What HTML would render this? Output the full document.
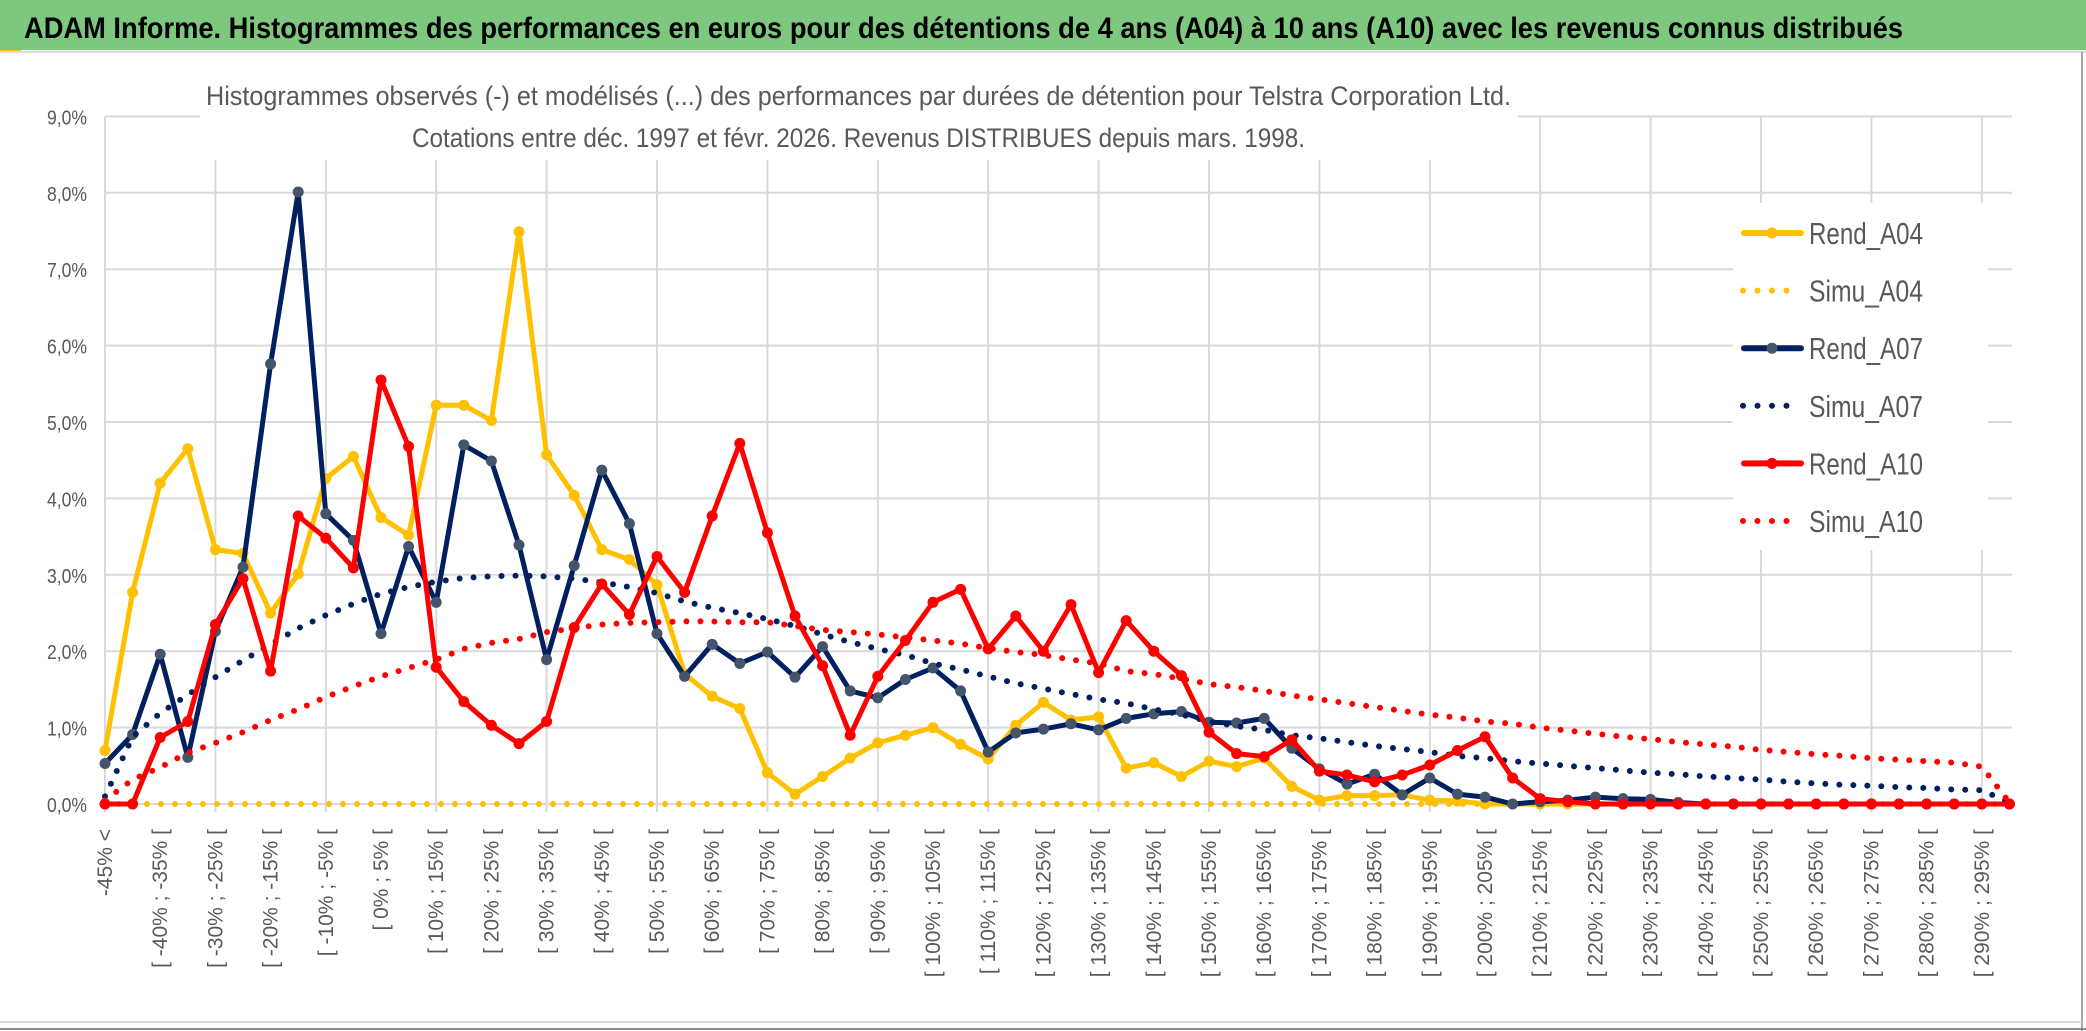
<!DOCTYPE html>
<html><head><meta charset="utf-8"><style>
html,body{margin:0;padding:0;background:#fff;}
svg{display:block;}
text{font-family:"Liberation Sans",sans-serif;}
</style></head><body>
<svg id="chart" width="2086" height="1031" viewBox="0 0 2086 1031" xmlns="http://www.w3.org/2000/svg">
<rect x="0" y="0" width="2086" height="1031" fill="#fff"/>
<rect x="0" y="0" width="2086" height="50" fill="#7DC87E"/>
<rect x="0" y="50" width="21" height="3" fill="#FFC000"/>
<line x1="0" y1="52" x2="2086" y2="52" stroke="#dddddd" stroke-width="2"/>
<line x1="2082" y1="52" x2="2082" y2="1031" stroke="#a6a6a6" stroke-width="2"/>
<line x1="0" y1="1022" x2="2082" y2="1022" stroke="#d9d9d9" stroke-width="2"/>
<line x1="0" y1="1029" x2="2086" y2="1029" stroke="#8c8c8c" stroke-width="2"/>
<text x="24" y="38" font-size="30" font-weight="bold" fill="#000" textLength="1879" lengthAdjust="spacingAndGlyphs">ADAM Informe. Histogrammes des performances en euros pour des détentions de 4 ans (A04) à 10 ans (A10) avec les revenus connus distribués</text>
<g id="grid"></g>
<g id="series"></g>
<rect x="200" y="60" width="1318" height="100" fill="#fff"/>
<text x="206" y="105" font-size="27" fill="#595959" textLength="1305" lengthAdjust="spacingAndGlyphs">Histogrammes observés (-) et modélisés (...) des performances par durées de détention pour Telstra Corporation Ltd.</text>
<text x="412" y="147" font-size="27" fill="#595959" textLength="893" lengthAdjust="spacingAndGlyphs">Cotations entre déc. 1997 et févr. 2026. Revenus DISTRIBUES depuis mars. 1998.</text>
<g id="yaxis"></g>
<g id="xaxis"></g>
<g id="legend"></g>
</svg>
<script>
const categories = ["-45% <","[ -45% ; -40% [","[ -40% ; -35% [","[ -35% ; -30% [","[ -30% ; -25% [","[ -25% ; -20% [","[ -20% ; -15% [","[ -15% ; -10% [","[ -10% ; -5% [","[ -5% ; 0% [",
"[ 0% ; 5% [","[ 5% ; 10% [","[ 10% ; 15% [","[ 15% ; 20% [","[ 20% ; 25% [","[ 25% ; 30% [","[ 30% ; 35% [","[ 35% ; 40% [","[ 40% ; 45% [","[ 45% ; 50% [",
"[ 50% ; 55% [","[ 55% ; 60% [","[ 60% ; 65% [","[ 65% ; 70% [","[ 70% ; 75% [","[ 75% ; 80% [","[ 80% ; 85% [","[ 85% ; 90% [","[ 90% ; 95% [","[ 95% ; 100% [",
"[ 100% ; 105% [","[ 105% ; 110% [","[ 110% ; 115% [","[ 115% ; 120% [","[ 120% ; 125% [","[ 125% ; 130% [","[ 130% ; 135% [","[ 135% ; 140% [","[ 140% ; 145% [","[ 145% ; 150% [",
"[ 150% ; 155% [","[ 155% ; 160% [","[ 160% ; 165% [","[ 165% ; 170% [","[ 170% ; 175% [","[ 175% ; 180% [","[ 180% ; 185% [","[ 185% ; 190% [","[ 190% ; 195% [","[ 195% ; 200% [",
"[ 200% ; 205% [","[ 205% ; 210% [","[ 210% ; 215% [","[ 215% ; 220% [","[ 220% ; 225% [","[ 225% ; 230% [","[ 230% ; 235% [","[ 235% ; 240% [","[ 240% ; 245% [","[ 245% ; 250% [",
"[ 250% ; 255% [","[ 255% ; 260% [","[ 260% ; 265% [","[ 265% ; 270% [","[ 270% ; 275% [","[ 275% ; 280% [","[ 280% ; 285% [","[ 285% ; 290% [","[ 290% ; 295% [","[ 295% ; 300% ["];
const yTicks = [0,1,2,3,4,5,6,7,8,9];
const yTickLabels = ["0,0%","1,0%","2,0%","3,0%","4,0%","5,0%","6,0%","7,0%","8,0%","9,0%"];
const rendA04 = [0.70,2.77,4.20,4.65,3.33,3.28,2.50,3.01,4.26,4.55,3.75,3.52,5.22,5.22,5.02,7.49,4.57,4.04,3.33,3.20,2.87,1.70,1.41,1.25,0.41,0.13,0.36,0.60,0.80,0.90,1.00,0.78,0.59,1.03,1.33,1.10,1.14,0.47,0.54,0.36,0.56,0.49,0.60,0.23,0.05,0.11,0.11,0.12,0.05,0.04,0,0,0,0,0,0,0,0,0,0,0,0,0,0,0,0,0,0,0,0];
const simuA04 = [0,0,0,0,0,0,0,0,0,0,0,0,0,0,0,0,0,0,0,0,0,0,0,0,0,0,0,0,0,0,0,0,0,0,0,0,0,0,0,0,0,0,0,0,0,0,0,0,0,0,0,0,0,0,0,0,0,0,0,0,0,0,0,0,0,0,0,0,0,0];
const rendA07 = [0.53,0.91,1.96,0.61,2.26,3.10,5.76,8.01,3.80,3.45,2.23,3.37,2.64,4.70,4.49,3.39,1.89,3.12,4.37,3.67,2.23,1.67,2.09,1.84,1.99,1.66,2.06,1.48,1.39,1.63,1.78,1.48,0.68,0.93,0.98,1.05,0.97,1.12,1.18,1.21,1.07,1.06,1.12,0.73,0.46,0.26,0.39,0.12,0.34,0.13,0.09,0,0.03,0.05,0.09,0.07,0.06,0.02,0,0,0,0,0,0,0,0,0,0,0,0];
const simuA07 = [0.10,0.88,1.19,1.43,1.66,1.88,2.09,2.30,2.47,2.62,2.75,2.84,2.91,2.96,2.98,2.99,2.98,2.95,2.90,2.84,2.76,2.65,2.57,2.50,2.42,2.33,2.22,2.12,2.03,1.95,1.84,1.76,1.67,1.58,1.51,1.44,1.37,1.32,1.24,1.17,1.08,1.02,0.97,0.90,0.86,0.81,0.76,0.72,0.68,0.63,0.60,0.56,0.53,0.50,0.47,0.44,0.41,0.39,0.36,0.34,0.32,0.29,0.27,0.25,0.24,0.22,0.21,0.19,0.18,0.02];
const rendA10 = [0,0,0.87,1.08,2.35,2.95,1.74,3.77,3.48,3.09,5.55,4.68,1.79,1.34,1.03,0.79,1.08,2.31,2.88,2.48,3.24,2.77,3.77,4.72,3.55,2.46,1.81,0.90,1.67,2.14,2.64,2.81,2.03,2.46,2.00,2.61,1.72,2.40,2.00,1.68,0.94,0.66,0.62,0.84,0.43,0.38,0.29,0.38,0.51,0.70,0.88,0.34,0.07,0.03,0,0,0,0,0,0,0,0,0,0,0,0,0,0,0,0];
const simuA10 = [0.05,0.32,0.48,0.67,0.80,0.94,1.10,1.24,1.40,1.54,1.67,1.78,1.89,2.03,2.11,2.16,2.25,2.30,2.35,2.37,2.38,2.39,2.39,2.38,2.38,2.33,2.28,2.25,2.22,2.18,2.14,2.10,2.04,1.99,1.95,1.89,1.84,1.74,1.70,1.64,1.57,1.53,1.48,1.42,1.37,1.32,1.27,1.22,1.17,1.13,1.08,1.05,1.00,0.96,0.92,0.88,0.85,0.81,0.78,0.75,0.71,0.68,0.65,0.63,0.60,0.58,0.56,0.54,0.49,0.02];
const seriesNames = ["Rend_A04","Simu_A04","Rend_A07","Simu_A07","Rend_A10","Simu_A10"];

const NS="http://www.w3.org/2000/svg";
const X0=105, STEP=27.6, Y0=804, YPP=76.4, XR=2012;
function xs(i){return X0+i*STEP;}
function ys(v){return Y0-v*YPP;}
function mk(tag,attrs,parent){const e=document.createElementNS(NS,tag);for(const k in attrs)e.setAttribute(k,attrs[k]);parent.appendChild(e);return e;}

const grid=document.getElementById('grid');
yTicks.forEach((t,k)=>{
  const l=mk('line',{x1:X0,x2:XR,y1:ys(t),y2:ys(t),stroke:'#d9d9d9','stroke-width':2},grid);
  
  
});
for(let i=0;i<categories.length;i+=4){
  const l=mk('line',{x1:xs(i),x2:xs(i),y1:ys(9),y2:Y0+8,stroke:'#d9d9d9','stroke-width':2},grid);
  
  
}
// legend box background occluding gridlines
const lb=mk('rect',{x:1733,y:203,width:255,height:347,fill:'#fff'},grid);



const yax=document.getElementById('yaxis');
yTicks.forEach((t,k)=>{
  const tx=mk('text',{x:87,y:ys(t)+8,'font-size':20,fill:'#595959','text-anchor':'end',textLength:40,lengthAdjust:'spacingAndGlyphs'},yax);
  tx.textContent=yTickLabels[k];
  
  
});
const xax=document.getElementById('xaxis');
categories.forEach((c,i)=>{
  if(i%2) return;
  const x=xs(i)+7, y=829;
  const tx=mk('text',{x:x,y:y,'font-size':21,fill:'#595959','text-anchor':'end',transform:`rotate(-90 ${x} ${y})`},xax);
  tx.textContent=c;
  
  
});

const ser=document.getElementById('series');
function pts(arr){return arr.map((v,i)=>xs(i).toFixed(1)+','+ys(v).toFixed(1)).join(' ');}
function solid(arr,color,mcol,name){
  const g=mk('g',{},ser);
  
  
  mk('polyline',{points:pts(arr),fill:'none',stroke:color,'stroke-width':5,'stroke-linejoin':'round'},g);
  arr.forEach((v,i)=>{
    const c=mk('circle',{cx:xs(i),cy:ys(v),r:5.5,fill:mcol},g);
    
    
  });
}
function dotted(arr,color,name){
  const p=mk('polyline',{points:pts(arr),fill:'none',stroke:color,'stroke-width':6,'stroke-linecap':'round','stroke-dasharray':'0 14'},ser);
  
  
}
solid(rendA04,'#FFC000','#FFC000','line-rend-a04');
dotted(simuA04,'#FFC000','line-simu-a04');
solid(rendA07,'#002060','#44546A','line-rend-a07');
dotted(simuA07,'#002060','line-simu-a07');
solid(rendA10,'#FF0000','#FF0000','line-rend-a10');
dotted(simuA10,'#FF0000','line-simu-a10');

const leg=document.getElementById('legend');
const legColors=['#FFC000','#FFC000','#002060','#002060','#FF0000','#FF0000'];
const legMarker=['#FFC000','','#44546A','','#FF0000',''];
seriesNames.forEach((n,k)=>{
  const y=233+k*57.6;
  const g=mk('g',{},leg);
  
  
  if(k%2===0){
    mk('line',{x1:1744,x2:1801,y1:y,y2:y,stroke:legColors[k],'stroke-width':6,'stroke-linecap':'round'},g);
    mk('circle',{cx:1772,cy:y,r:5.5,fill:legMarker[k]},g);
  } else {
    mk('line',{x1:1743,x2:1799,y1:y,y2:y,stroke:legColors[k],'stroke-width':6,'stroke-linecap':'round','stroke-dasharray':'0 14.5'},g);
  }
  const t=mk('text',{x:1809,y:y+11,'font-size':31,fill:'#595959',textLength:114,lengthAdjust:'spacingAndGlyphs'},g);
  t.textContent=n;
});
</script>
</body></html>
